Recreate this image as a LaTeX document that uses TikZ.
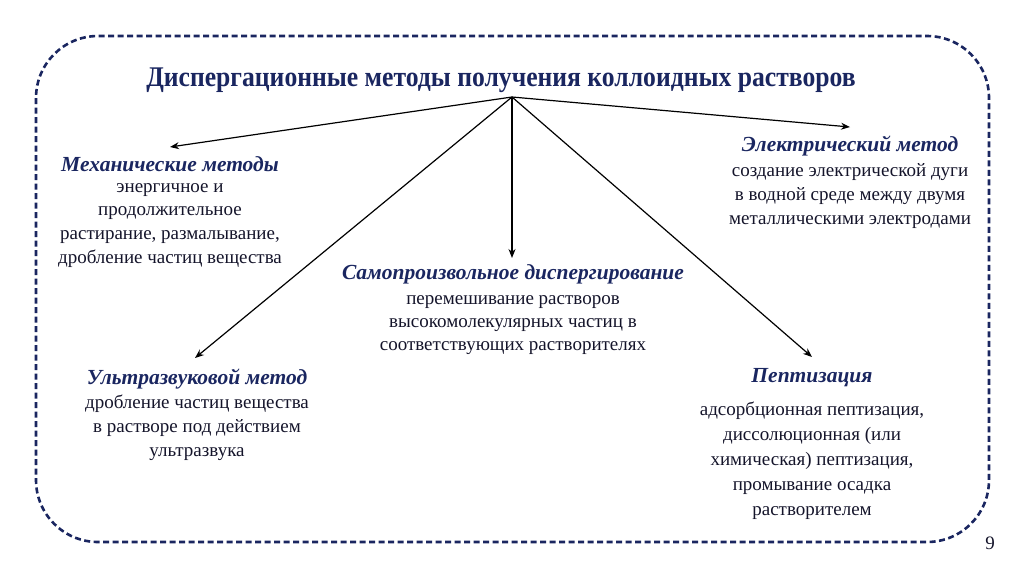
\documentclass[tikz,border=0pt]{standalone}
\usepackage{fontspec}
\setmainfont{Liberation Serif}
\newfontfamily\titlefont{Liberation Serif}[FakeStretch=0.9]
\usetikzlibrary{arrows.meta}
\definecolor{navy}{HTML}{1A2660}
\definecolor{bodyc}{HTML}{14142A}
\tikzset{
  frame/.style={draw=navy, line width=2.6pt, dash pattern=on 6pt off 3.5pt, rounded corners=62pt},
  ttl/.style={font=\titlefont\fontsize{28.5}{32}\selectfont\bfseries, text=navy, inner sep=0pt},
  head/.style={font=\fontsize{21.5}{24}\selectfont\bfseries\itshape, text=navy, inner sep=0pt, anchor=center},
  body/.style={font=\fontsize{19}{23.6}\selectfont, text=bodyc, align=center, inner sep=0pt, anchor=base},
  arr/.style={draw=black, line width=1.2pt, -{Stealth[length=9pt,width=7pt]}},
}
\begin{document}
\begin{tikzpicture}[x=1pt,y=-1pt]
\useasboundingbox (0,0) rectangle (1024,576);
\draw[frame] (36,36) rectangle (989,542);
\node[ttl] (title) at (501,80) {Диспергационные методы получения коллоидных растворов};
\coordinate (o) at (512,97);
% headings
\node[head] (mech) at (170,164) {Механические методы};
\node[body] (mechb) at (170,263) {энергичное и\\продолжительное\\растирание, размалывание,\\дробление частиц вещества};
\node[head] (elec) at (850,146) {Электрический метод};
\node[body] (elecb) at (850,224) {создание электрической дуги\\в водной среде между двумя\\металлическими электродами};
\node[head] (self) at (513,274) {Самопроизвольное диспергирование};
\node[body, font=\fontsize{19}{22.8}\selectfont] (selfb) at (513,350.5) {перемешивание растворов\\высокомолекулярных частиц в\\соответствующих растворителях};
\node[head] (ultra) at (197,379) {Ультразвуковой метод};
\node[body] (ultrab) at (197,456) {дробление частиц вещества\\в растворе под действием\\ультразвука};
\node[head] (pept) at (812,378) {Пептизация};
\node[body, font=\fontsize{19}{25}\selectfont] (peptb) at (812,515) {адсорбционная пептизация,\\диссолюционная (или\\химическая) пептизация,\\промывание осадка\\растворителем};
% arrow tips
\coordinate (tmech) at (170,147);
\coordinate (telec) at (850,127);
\coordinate (tself) at (512,258);
\coordinate (tultra) at (195,358);
\coordinate (tpept) at (812,357);
\draw[arr] (o) -- (tmech);
\draw[arr] (o) -- (telec);
\draw[arr] (o) -- (tself);
\draw[arr] (o) -- (tultra);
\draw[arr] (o) -- (tpept);
\node[font=\fontsize{19}{22}\selectfont, text=bodyc] (pg) at (990,543) {9};
\end{tikzpicture}
\end{document}
